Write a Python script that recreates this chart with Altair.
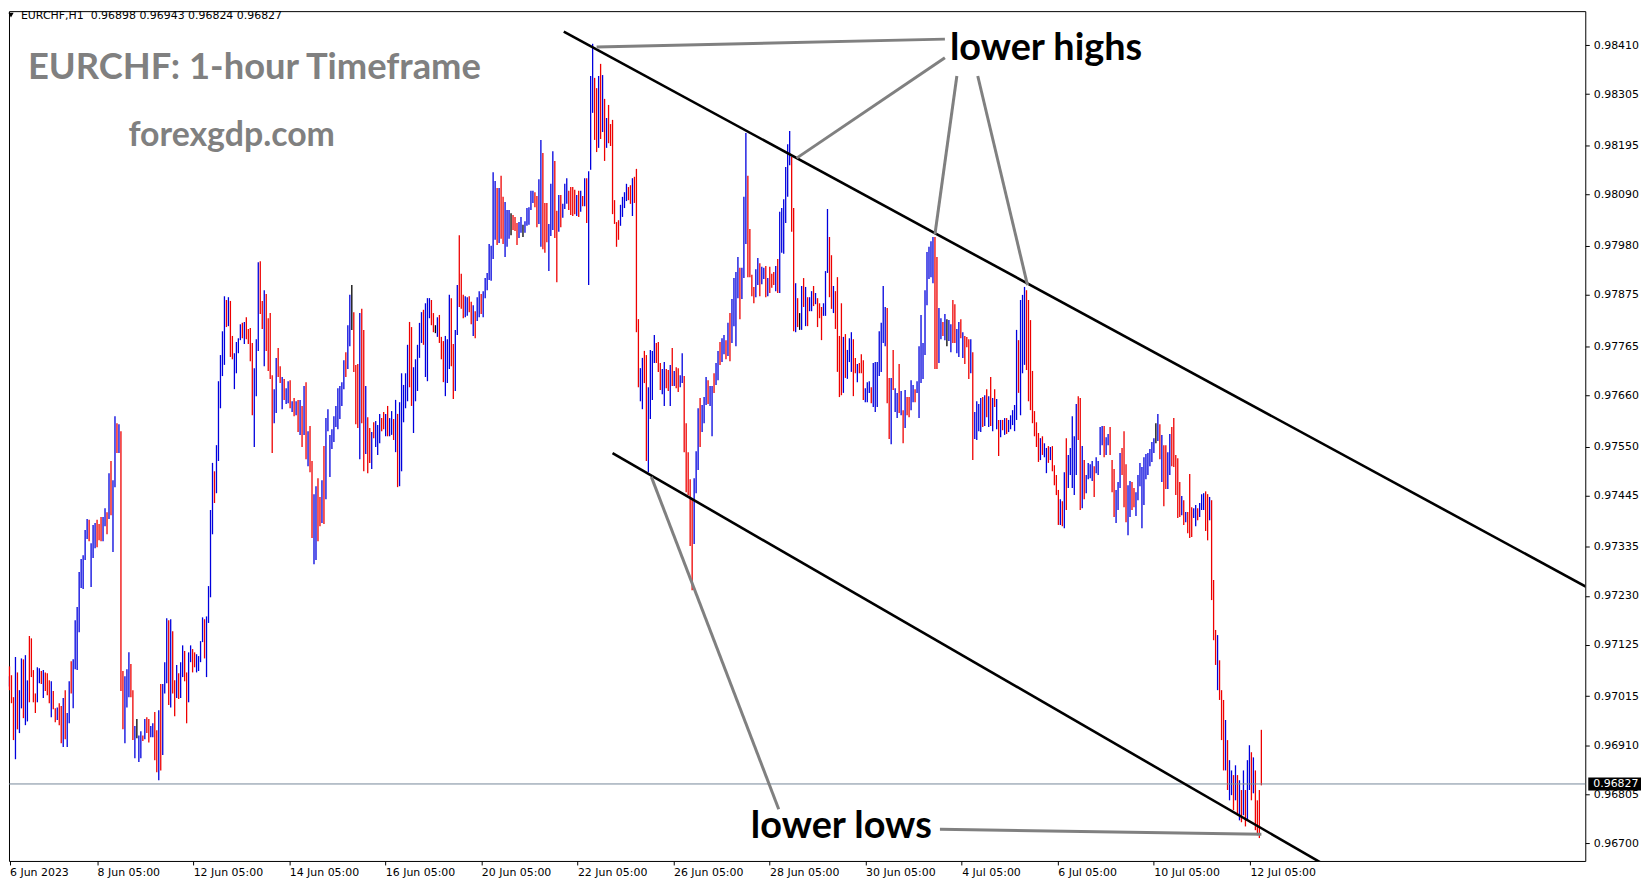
import altair as alt
import pandas as pd

# ---------------- data (EURCHF H1 bars) ----------------
highs = [
0.97071,0.97058,0.97079,0.97060,0.97013,0.97099,0.97066,0.97028,0.97096,0.97094,
0.97103,0.97049,0.97144,0.97139,0.97071,0.97021,0.97077,0.97075,0.97069,0.97071,
0.97066,0.97064,0.97049,0.97047,0.97026,0.96989,0.96991,0.97000,0.96994,0.97011,
0.97028,0.96979,0.97047,0.97090,0.97094,0.97178,0.97206,0.97281,0.97309,0.97317,
0.97371,0.97395,0.97393,0.97343,0.97382,0.97386,0.97393,0.97384,0.97399,0.97399,
0.97418,0.97409,0.97493,0.97519,0.97478,0.97615,0.97600,0.97598,0.97583,0.97069,
0.97058,0.97073,0.97109,0.97084,0.97028,0.96951,0.96966,0.96931,0.96940,0.96931,
0.96966,0.96970,0.96966,0.96951,0.96957,0.96981,0.96942,0.96985,0.97041,0.97041,
0.97088,0.97182,0.97178,0.97180,0.97154,0.97049,0.97082,0.97064,0.97088,0.97124,
0.97112,0.97066,0.97109,0.97124,0.97116,0.97109,0.97105,0.97101,0.97133,0.97184,
0.97180,0.97186,0.97251,0.97414,0.97515,0.97497,0.97553,0.97690,0.97746,0.97797,
0.97872,0.97864,0.97870,0.97862,0.97787,0.97750,0.97774,0.97782,0.97812,0.97815,
0.97817,0.97827,0.97802,0.97804,0.97772,0.97718,0.97780,0.97945,0.97947,0.97862,
0.97885,0.97877,0.97825,0.97836,0.97703,0.97673,0.97740,0.97761,0.97722,0.97699,
0.97695,0.97675,0.97690,0.97692,0.97647,0.97654,0.97647,0.97650,0.97650,0.97637,
0.97680,0.97688,0.97583,0.97594,0.97519,0.97448,0.97465,0.97482,0.97442,0.97478,
0.97551,0.97611,0.97630,0.97575,0.97587,0.97615,0.97637,0.97675,0.97680,0.97688,
0.97735,0.97752,0.97810,0.97875,0.97896,0.97838,0.97725,0.97727,0.97836,0.97845,
0.97800,0.97680,0.97613,0.97590,0.97581,0.97602,0.97605,0.97596,0.97620,0.97611,
0.97624,0.97620,0.97637,0.97611,0.97626,0.97609,0.97650,0.97620,0.97645,0.97707,
0.97682,0.97707,0.97768,0.97817,0.97806,0.97720,0.97737,0.97768,0.97815,0.97838,
0.97843,0.97857,0.97868,0.97868,0.97864,0.97836,0.97810,0.97827,0.97832,0.97785,
0.97776,0.97787,0.97780,0.97875,0.97868,0.97770,0.97800,0.97896,0.98003,0.97920,
0.97875,0.97872,0.97870,0.97872,0.97860,0.97853,0.97840,0.97870,0.97883,0.97877,
0.97883,0.97911,0.97922,0.97984,0.97980,0.98138,0.98119,0.98104,0.98104,0.98130,
0.98085,0.98074,0.98057,0.98057,0.98050,0.98046,0.98042,0.98029,0.98031,0.98042,
0.98025,0.98033,0.98061,0.98063,0.98098,0.98098,0.98095,0.98087,0.98123,0.98207,
0.98179,0.98072,0.98072,0.98027,0.98113,0.98183,0.98162,0.98055,0.98089,0.98089,
0.98070,0.98113,0.98125,0.98098,0.98106,0.98106,0.98100,0.98089,0.98098,0.98098,
0.98087,0.98125,0.98125,0.98140,0.98344,0.98413,0.98340,0.98318,0.98344,0.98370,
0.98346,0.98295,0.98254,0.98282,0.98241,0.98250,0.98078,0.98031,0.98035,0.98068,
0.98085,0.98095,0.98113,0.98106,0.98110,0.98125,0.98128,0.98145,0.97823,0.97718,
0.97740,0.97755,0.97746,0.97677,0.97757,0.97755,0.97789,0.97772,0.97774,0.97729,
0.97716,0.97731,0.97716,0.97714,0.97725,0.97761,0.97712,0.97720,0.97718,0.97703,
0.97750,0.97701,0.97600,0.97538,0.97480,0.97440,0.97482,0.97540,0.97632,0.97654,
0.97639,0.97656,0.97699,0.97692,0.97680,0.97680,0.97707,0.97729,0.97755,0.97774,
0.97782,0.97789,0.97778,0.97815,0.97836,0.97866,0.97911,0.97924,0.97956,0.97933,
0.97933,0.98085,0.98222,0.98130,0.98016,0.97918,0.97892,0.97930,0.97954,0.97943,
0.97935,0.97933,0.97937,0.97911,0.97935,0.97920,0.97924,0.97937,0.97952,0.98053,
0.98061,0.98080,0.98149,0.98198,0.98226,0.98171,0.98061,0.97900,0.97868,0.97836,
0.97894,0.97911,0.97892,0.97870,0.97870,0.97883,0.97894,0.97879,0.97868,0.97857,
0.97849,0.97857,0.97926,0.98059,0.97999,0.97960,0.97894,0.97883,0.97913,0.97787,
0.97857,0.97785,0.97791,0.97757,0.97782,0.97795,0.97780,0.97740,0.97727,0.97729,
0.97748,0.97735,0.97675,0.97688,0.97690,0.97677,0.97729,0.97731,0.97731,0.97797,
0.97815,0.97894,0.97849,0.97847,0.97697,0.97697,0.97757,0.97675,0.97665,0.97727,
0.97669,0.97628,0.97671,0.97656,0.97656,0.97692,0.97682,0.97673,0.97690,0.97765,
0.97832,0.97772,0.97885,0.97967,0.97978,0.97990,0.97999,0.97999,0.97956,0.97847,
0.97825,0.97817,0.97834,0.97823,0.97821,0.97812,0.97864,0.97855,0.97802,0.97817,
0.97823,0.97795,0.97787,0.97785,0.97780,0.97780,0.97752,0.97624,0.97647,0.97641,
0.97654,0.97656,0.97660,0.97673,0.97658,0.97699,0.97654,0.97673,0.97652,0.97607,
0.97607,0.97607,0.97611,0.97611,0.97607,0.97617,0.97628,0.97639,0.97800,0.97778,
0.97864,0.97875,0.97892,0.97885,0.97864,0.97821,0.97712,0.97626,0.97602,0.97579,
0.97568,0.97572,0.97557,0.97547,0.97551,0.97549,0.97551,0.97510,0.97489,0.97457,
0.97437,0.97433,0.97495,0.97568,0.97532,0.97547,0.97615,0.97572,0.97641,0.97658,
0.97654,0.97551,0.97521,0.97489,0.97515,0.97512,0.97519,0.97508,0.97527,0.97519,
0.97592,0.97594,0.97594,0.97570,0.97577,0.97592,0.97521,0.97502,0.97457,0.97474,
0.97536,0.97547,0.97583,0.97512,0.97467,0.97476,0.97474,0.97461,0.97452,0.97489,
0.97515,0.97506,0.97527,0.97534,0.97536,0.97545,0.97560,0.97568,0.97600,0.97620,
0.97598,0.97575,0.97553,0.97553,0.97538,0.97577,0.97592,0.97611,0.97532,0.97525,
0.97474,0.97444,0.97435,0.97410,0.97410,0.97491,0.97420,0.97418,0.97425,0.97418,
0.97429,0.97448,0.97450,0.97454,0.97448,0.97442,0.97435,0.97264,0.97157,0.97146,
0.97092,0.97028,0.97007,0.96964,0.96921,0.96878,0.96856,0.96846,0.96867,0.96846,
0.96835,0.96814,0.96856,0.96814,0.96878,0.96910,0.96895,0.96884,0.96856,0.96792,
0.96814,0.96943,
]

lows = [
0.97043,0.97036,0.97028,0.97000,0.96921,0.96880,0.96944,0.96936,0.96989,0.96968,
0.96953,0.96961,0.97002,0.97056,0.97002,0.96979,0.97002,0.97043,0.97041,0.97011,
0.97026,0.97017,0.97000,0.96970,0.96987,0.96959,0.96964,0.96953,0.96914,0.96906,
0.96923,0.96906,0.96957,0.97021,0.96989,0.97073,0.97071,0.97152,0.97247,0.97245,
0.97307,0.97352,0.97347,0.97249,0.97311,0.97332,0.97334,0.97349,0.97347,0.97347,
0.97379,0.97362,0.97395,0.97403,0.97324,0.97463,0.97536,0.97536,0.97026,0.96944,
0.96914,0.96991,0.97013,0.97013,0.96921,0.96882,0.96925,0.96874,0.96882,0.96919,
0.96923,0.96936,0.96916,0.96927,0.96927,0.96878,0.96852,0.96835,0.96856,0.96889,
0.97021,0.97043,0.96996,0.96991,0.97021,0.96972,0.97011,0.97009,0.97011,0.97056,
0.97047,0.96957,0.97002,0.97088,0.97066,0.97077,0.97066,0.97069,0.97088,0.97131,
0.97096,0.97056,0.97172,0.97227,0.97362,0.97429,0.97450,0.97519,0.97632,0.97701,
0.97725,0.97806,0.97808,0.97742,0.97737,0.97673,0.97707,0.97750,0.97778,0.97782,
0.97770,0.97780,0.97770,0.97733,0.97617,0.97549,0.97658,0.97755,0.97834,0.97802,
0.97722,0.97755,0.97712,0.97695,0.97536,0.97600,0.97622,0.97699,0.97686,0.97630,
0.97650,0.97641,0.97643,0.97632,0.97624,0.97615,0.97617,0.97581,0.97575,0.97549,
0.97575,0.97523,0.97508,0.97495,0.97354,0.97298,0.97307,0.97347,0.97379,0.97386,
0.97384,0.97437,0.97583,0.97485,0.97545,0.97560,0.97592,0.97587,0.97609,0.97637,
0.97673,0.97699,0.97716,0.97765,0.97800,0.97710,0.97598,0.97590,0.97523,0.97600,
0.97497,0.97534,0.97493,0.97515,0.97502,0.97568,0.97549,0.97532,0.97557,0.97583,
0.97587,0.97572,0.97572,0.97572,0.97575,0.97564,0.97538,0.97463,0.97465,0.97497,
0.97602,0.97632,0.97647,0.97677,0.97637,0.97579,0.97647,0.97669,0.97740,0.97772,
0.97768,0.97699,0.97690,0.97825,0.97810,0.97795,0.97793,0.97785,0.97772,0.97737,
0.97688,0.97658,0.97686,0.97716,0.97722,0.97652,0.97669,0.97789,0.97849,0.97845,
0.97825,0.97827,0.97830,0.97838,0.97812,0.97787,0.97782,0.97819,0.97827,0.97834,
0.97827,0.97868,0.97885,0.97907,0.97905,0.97952,0.97993,0.97982,0.97986,0.97995,
0.97984,0.97956,0.97978,0.97995,0.98003,0.98014,0.98012,0.97982,0.97997,0.98008,
0.97999,0.98008,0.98023,0.98025,0.98057,0.98072,0.98063,0.98020,0.98027,0.97978,
0.97973,0.97965,0.97988,0.97926,0.98001,0.98014,0.97997,0.97902,0.98010,0.98020,
0.98040,0.98059,0.98070,0.98057,0.98046,0.98044,0.98048,0.98044,0.98042,0.98053,
0.98065,0.98065,0.98029,0.97896,0.98143,0.98265,0.98207,0.98181,0.98190,0.98209,
0.98224,0.98162,0.98190,0.98200,0.98194,0.98048,0.98027,0.97978,0.97993,0.98023,
0.98042,0.98061,0.98076,0.98078,0.98070,0.98044,0.98072,0.97795,0.97677,0.97647,
0.97630,0.97686,0.97519,0.97495,0.97609,0.97650,0.97729,0.97729,0.97710,0.97671,
0.97662,0.97637,0.97675,0.97669,0.97637,0.97680,0.97680,0.97675,0.97667,0.97677,
0.97686,0.97538,0.97452,0.97446,0.97337,0.97242,0.97341,0.97450,0.97500,0.97549,
0.97581,0.97600,0.97639,0.97641,0.97637,0.97572,0.97665,0.97682,0.97692,0.97725,
0.97731,0.97748,0.97737,0.97744,0.97733,0.97772,0.97808,0.97765,0.97868,0.97823,
0.97866,0.97911,0.97984,0.97913,0.97913,0.97872,0.97857,0.97870,0.97896,0.97872,
0.97898,0.97909,0.97870,0.97872,0.97879,0.97890,0.97896,0.97883,0.97879,0.97879,
0.97965,0.97963,0.98029,0.98085,0.98153,0.98010,0.97797,0.97795,0.97806,0.97800,
0.97800,0.97849,0.97808,0.97808,0.97840,0.97840,0.97851,0.97855,0.97806,0.97825,
0.97778,0.97830,0.97830,0.97922,0.97870,0.97845,0.97836,0.97802,0.97710,0.97656,
0.97660,0.97665,0.97697,0.97695,0.97731,0.97710,0.97658,0.97707,0.97688,0.97707,
0.97707,0.97650,0.97645,0.97645,0.97665,0.97643,0.97635,0.97624,0.97635,0.97701,
0.97710,0.97772,0.97765,0.97643,0.97566,0.97555,0.97671,0.97624,0.97611,0.97622,
0.97617,0.97557,0.97590,0.97617,0.97613,0.97628,0.97645,0.97645,0.97665,0.97611,
0.97686,0.97695,0.97746,0.97853,0.97909,0.97913,0.97900,0.97716,0.97716,0.97729,
0.97780,0.97787,0.97778,0.97765,0.97776,0.97752,0.97772,0.97772,0.97750,0.97742,
0.97782,0.97740,0.97727,0.97763,0.97695,0.97707,0.97521,0.97566,0.97564,0.97583,
0.97581,0.97592,0.97594,0.97613,0.97592,0.97594,0.97583,0.97635,0.97587,0.97530,
0.97570,0.97585,0.97575,0.97577,0.97581,0.97587,0.97596,0.97583,0.97607,0.97665,
0.97617,0.97707,0.97725,0.97714,0.97647,0.97628,0.97600,0.97572,0.97549,0.97517,
0.97521,0.97532,0.97527,0.97493,0.97515,0.97521,0.97497,0.97467,0.97446,0.97382,
0.97382,0.97379,0.97375,0.97414,0.97461,0.97489,0.97461,0.97446,0.97489,0.97564,
0.97414,0.97418,0.97437,0.97450,0.97480,0.97482,0.97476,0.97442,0.97493,0.97489,
0.97532,0.97553,0.97527,0.97532,0.97553,0.97532,0.97452,0.97399,0.97386,0.97414,
0.97461,0.97489,0.97420,0.97388,0.97360,0.97399,0.97414,0.97420,0.97401,0.97435,
0.97465,0.97375,0.97425,0.97480,0.97489,0.97508,0.97517,0.97536,0.97557,0.97562,
0.97523,0.97474,0.97422,0.97459,0.97459,0.97489,0.97508,0.97506,0.97446,0.97397,
0.97399,0.97403,0.97382,0.97388,0.97364,0.97354,0.97356,0.97397,0.97379,0.97392,
0.97399,0.97414,0.97414,0.97369,0.97349,0.97392,0.97221,0.97135,0.97082,0.97028,
0.97007,0.96921,0.96856,0.96856,0.96814,0.96792,0.96803,0.96771,0.96792,0.96760,
0.96749,0.96745,0.96760,0.96736,0.96749,0.96814,0.96792,0.96807,0.96728,0.96717,
0.96711,0.96824,
]

# bar direction: b = up (blue), r = down (red), k = unchanged (black)
direction = (
"rbrrrbrbbr" "bbrrrrbbrb" "rrrbrrbrrb" "rbbrbbbbbb" "bbrbbbrrrb"
"brbrbbrbrr" "bbbrrbkbbr" "brrbbrrbrb" "bbrbrrbrbb" "rrbbrrbbbb"
"rbbbbrbbbb" "brbrrbbbbr" "brrrrbbbrr" "brrrrbbrrb" "rbbrbrbrbr"
"brbrrbbrrb" "rbbbbbbbbb" "brbbkrrrbr" "rbrrbrbbbr" "rbrbbrbrbb"
"bbbrrbbbbb" "rbbbrrkbrr" "rbbbrrbbrr" "rbbrrbrbbr" "bbbbbbbrbr"
"rbbbkrrrbb" "kbbbbbrrbb" "rrrbbbrrbr" "bbbrrrrbrb" "rbrbbbrrbr"
"brbrrrrrrb" "bbbrrbrrrb" "brrbbbbrrr" "bbrrbrbrrb" "brrrrrbbbr"
"bbbrbbrbbr" "bbrbrbbbbr" "bbbrrrrbbr" "bbrbrrrbrb" "bbbbbrrbrk"
"brbrbbrbrr" "rbbbrrbrrr" "rbrbbbrrbr" "rrbbbrbbbb" "bbbrrbrbbr"
"brbrrbbrbb" "bbbbbbbrrb" "brbkbbrrbb" "rbrrrbrbbb" "brbrbrbrbr"
"brbrbbbbbr" "bbbrrrrrrr" "brbbrbrrrr" "brbrbbbbbr" "rbrbbbbrbb"
"bbrbbrrrbb" "brrrbbrrbb" "bbbbbbbbkb" "rbrrbbrrrr" "rbrbrrrbbr"
"bbbrrbrrrb" "rrrbrbbrbr" "brbrbbrbrr" "rr"
)

last_bar = [0.96898, 0.96943, 0.96824, 0.96827]   # O H L C of the newest bar
symbol = "EURCHF,H1"

y_ticks = [0.98410, 0.98305, 0.98195, 0.98090, 0.97980, 0.97875, 0.97765, 0.97660,
           0.97550, 0.97445, 0.97335, 0.97230, 0.97125, 0.97015, 0.96910, 0.96805, 0.96700]

x_tick_pos = [2.0, 46.0, 94.27, 142.54, 190.81, 239.08, 287.35, 335.62, 383.89, 432.16,
              480.43, 528.7, 576.97, 625.24]
x_tick_lab = ["6 Jun 2023", "8 Jun 05:00", "12 Jun 05:00", "14 Jun 05:00", "16 Jun 05:00",
              "20 Jun 05:00", "22 Jun 05:00", "26 Jun 05:00", "28 Jun 05:00", "30 Jun 05:00",
              "4 Jul 05:00", "6 Jul 05:00", "10 Jul 05:00", "12 Jul 05:00"]

# channel lines (bar index, price)
chan_id = ["upper", "upper", "lower", "lower"]
chan_bar = [280.5, 800.0, 305.0, 670.0]
chan_price = [0.98439, 0.97236, 0.97536, 0.96636]

# grey pointer lines of the annotations
ann_id = ["a", "a", "b", "b", "c", "c", "d", "d", "e", "e", "f", "f"]
ann_bar = [297.0, 472.0, 472.0, 397.5, 478.0, 467.0, 488.5, 513.5, 324.5, 388.5, 469.5, 631.0]
ann_price = [0.98406, 0.98423, 0.98383, 0.98168, 0.98344, 0.98005, 0.98344, 0.97896,
             0.97485, 0.96773, 0.96730, 0.96719]

labels_txt = ["lower highs", "lower lows"]
labels_bar = [474.5, 374.5]
labels_price = [0.98402, 0.96734]

# ---------------- chart ----------------
W, H = 1584, 854
n = min(len(highs), len(lows), len(direction))
bars = pd.DataFrame({"bar": list(range(n)), "high": highs[:n], "low": lows[:n],
                     "dir": list(direction[:n])})

xs = alt.Scale(domain=[1.75, 793.75], nice=False, zero=False)
ys = alt.Scale(domain=[0.96662, 0.98483], nice=False, zero=False)

label_expr = ("[" + ",".join("'%s'" % s for s in x_tick_lab) + "][indexof([" +
              ",".join(str(v) for v in x_tick_pos) + "], datum.value)]")

x_axis = alt.Axis(values=x_tick_pos, labelExpr=label_expr, labelAlign="left",
                  labelFont="DejaVu Sans", labelFontSize=11, labelColor="black",
                  tickColor="black", tickSize=4, domain=False, grid=False, title=None,
                  labelPadding=2, labelFlush=False, labelOverlap=False)
y_axis = alt.Axis(orient="right", values=y_ticks, format=".5f", labelFont="DejaVu Sans",
                  labelFontSize=11, labelColor="black", tickColor="black", tickSize=4,
                  domain=False, grid=False, title=None, labelPadding=4, labelOverlap=False)

X = lambda f: alt.X(f, scale=xs, axis=x_axis)
Y = lambda f: alt.Y(f, scale=ys, axis=y_axis)

bar_layer = alt.Chart(bars).mark_rule(strokeWidth=1.3).encode(
    x=X("bar:Q"), y=Y("low:Q"), y2="high:Q",
    color=alt.Color("dir:N", scale=alt.Scale(domain=["b", "r", "k"],
                                             range=["#0000DD", "#EE0000", "#000000"]),
                    legend=None),
)

chan = pd.DataFrame({"id": chan_id, "bar": chan_bar, "price": chan_price})
chan_layer = alt.Chart(chan).mark_line(color="black", strokeWidth=2.6, clip=True).encode(
    x=X("bar:Q"), y=Y("price:Q"), detail="id:N",
)

ann = pd.DataFrame({"id": ann_id, "bar": ann_bar, "price": ann_price})
ann_layer = alt.Chart(ann).mark_line(color="#808080", strokeWidth=3, clip=True).encode(
    x=X("bar:Q"), y=Y("price:Q"), detail="id:N",
)

last_df = pd.DataFrame({"price": [last_bar[3]], "txt": ["%.5f" % last_bar[3]]})
price_line = alt.Chart(last_df).mark_rule(color="#778899", strokeWidth=1).encode(
    y=Y("price:Q"),
)
box_df = pd.DataFrame({"top": [last_bar[3] + 0.00014], "bot": [last_bar[3] - 0.00014]})
price_box = alt.Chart(box_df).mark_rect(color="#000000", clip=False).encode(
    x=alt.value(W + 3), x2=alt.value(W + 56), y=Y("top:Q"), y2="bot:Q",
)
price_txt = alt.Chart(last_df).mark_text(font="DejaVu Sans", fontSize=11, color="white",
                                          align="left", baseline="middle", clip=False).encode(
    x=alt.value(W + 8), y=Y("price:Q"), text="txt:N",
)

lab_df = pd.DataFrame({"t": labels_txt, "bar": labels_bar, "price": labels_price})
lab_layer = alt.Chart(lab_df).mark_text(font="Lato", fontWeight="bold", fontSize=38,
                                         color="black", align="left", baseline="middle").encode(
    x=X("bar:Q"), y=Y("price:Q"), text="t:N",
)

head_txt = symbol + "\u00a0 " + " ".join("%.5f" % v for v in last_bar)
head_df = pd.DataFrame({"t": [head_txt]})
head_layer = alt.Chart(head_df).mark_text(font="DejaVu Sans", fontSize=11, color="black",
                                           align="left", baseline="middle").encode(
    x=alt.value(12), y=alt.value(4.5), text="t:N")
tri_layer = alt.Chart(head_df).mark_point(shape="triangle-down", filled=True, color="black",
                                           size=28, opacity=1).encode(
    x=alt.value(2), y=alt.value(4))

title_df = pd.DataFrame({"t": ["EURCHF: 1-hour Timeframe"]})
title_layer = alt.Chart(title_df).mark_text(font="Lato", fontWeight="bold", fontSize=36.5,
                                             color="#808080", align="left",
                                             baseline="middle").encode(
    x=alt.value(19), y=alt.value(57.5), text="t:N")
site_df = pd.DataFrame({"t": ["forexgdp.com"]})
site_layer = alt.Chart(site_df).mark_text(font="Lato", fontWeight="bold", fontSize=34,
                                           color="#808080", align="left",
                                           baseline="middle").encode(
    x=alt.value(120), y=alt.value(126), text="t:N")

chart = alt.layer(
    bar_layer, price_line, chan_layer, ann_layer, lab_layer, price_box, price_txt,
    head_layer, tri_layer, title_layer, site_layer,
).properties(
    width=W, height=H, background="white",
    autosize=alt.AutoSizeParams(type="none"),
    padding={"left": 1, "top": 1, "right": 56, "bottom": 20},
).configure_view(stroke="black", strokeWidth=1)

chart.save("out.html", embed_options={"renderer": "svg", "actions": False})
